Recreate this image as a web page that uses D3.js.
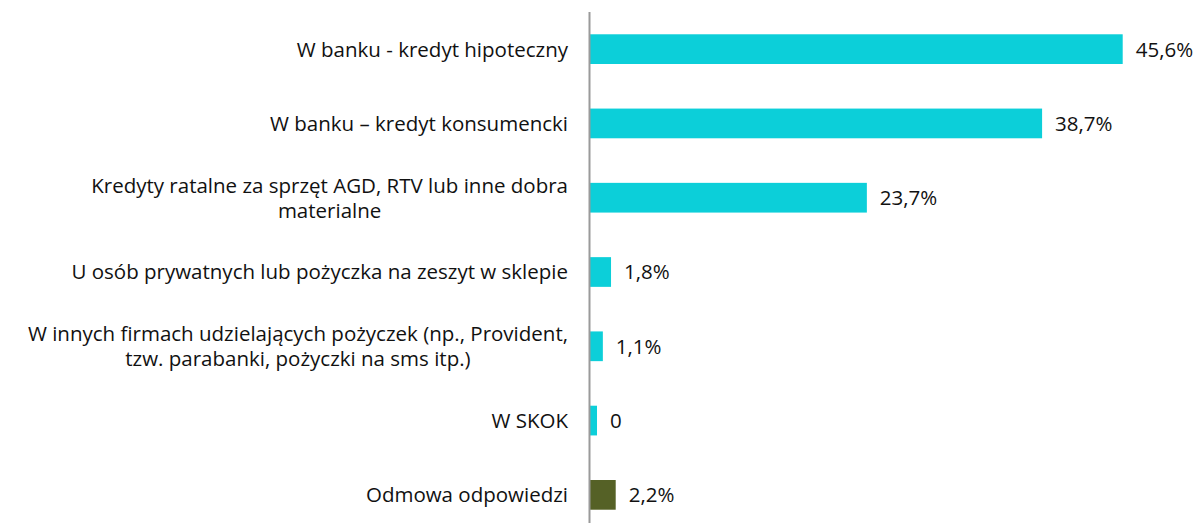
<!DOCTYPE html>
<html>
<head>
<meta charset="utf-8">
<script src="https://cdn.jsdelivr.net/npm/d3@7"></script>
<style>
  body { margin: 0; background: #fff; }
  text { font-family: "Open Sans", sans-serif; fill: #111; }
</style>
</head>
<body>
<div id="chart"></div>
<script>
var categories = [
    "W banku - kredyt hipoteczny",
    "W banku – kredyt konsumencki",
    "Kredyty ratalne za sprzęt AGD, RTV lub inne dobra\nmaterialne",
    "U osób prywatnych lub pożyczka na zeszyt w sklepie",
    "W innych firmach udzielających pożyczek (np., Provident,\ntzw. parabanki, pożyczki na sms itp.)",
    "W SKOK",
    "Odmowa odpowiedzi"
];
var values = [45.6, 38.7, 23.7, 1.8, 1.1, 0.6, 2.2];
var valueLabels = ["45,6%", "38,7%", "23,7%", "1,8%", "1,1%", "0", "2,2%"];
var barColors = ["#0ccfd9", "#0ccfd9", "#0ccfd9", "#0ccfd9", "#0ccfd9", "#0ccfd9", "#556126"];

var width = 1196, height = 523;
var x0 = 590;
var fontSize = "20.5px";

var x = d3.scaleLinear()
    .domain([0, 45.6])
    .range([x0, 1122.7]);

var y = d3.scaleBand()
    .domain(categories)
    .range([12, 532])
    .paddingInner(0.6)
    .paddingOuter(0.3);

var svg = d3.select("#chart").append("svg")
    .attr("width", width)
    .attr("height", height);

svg.selectAll("rect.bar")
    .data(values)
    .enter().append("rect")
    .attr("class", "bar")
    .attr("x", x(0))
    .attr("y", function (d, i) { return y(categories[i]); })
    .attr("width", function (d) { return x(d) - x(0); })
    .attr("height", y.bandwidth())
    .attr("fill", function (d, i) { return barColors[i]; });

// value labels
svg.selectAll("text.val")
    .data(values)
    .enter().append("text")
    .attr("class", "val")
    .attr("x", function (d) { return x(d) + 13; })
    .attr("y", function (d, i) { return y(categories[i]) + y.bandwidth() / 2; })
    .attr("dy", "0.36em")
    .style("font-size", fontSize)
    .text(function (d, i) { return valueLabels[i]; });

// category labels, wrapped lines centred inside a block right-aligned at 568
var lineH = 25, labelRight = 568;
svg.selectAll("text.cat")
    .data(categories)
    .enter().append("text")
    .attr("class", "cat")
    .style("font-size", fontSize)
    .each(function (d) {
        var lines = d.split("\n");
        var cy = y(d) + y.bandwidth() / 2;
        var t = d3.select(this);
        var spans = lines.map(function (l, k) {
            return t.append("tspan")
                .attr("y", cy + (k - (lines.length - 1) / 2) * lineH)
                .attr("dy", "0.36em")
                .text(l);
        });
        var widths = spans.map(function (s) { return s.node().getComputedTextLength(); });
        var maxW = d3.max(widths);
        spans.forEach(function (s, k) {
            s.attr("x", labelRight - maxW / 2 - widths[k] / 2);
        });
    });

// axis line
svg.append("line")
    .attr("x1", x0 - 0.5)
    .attr("x2", x0 - 0.5)
    .attr("y1", 12)
    .attr("y2", height)
    .attr("stroke", "#9a9a9a")
    .attr("stroke-width", 2);
</script>
</body>
</html>
